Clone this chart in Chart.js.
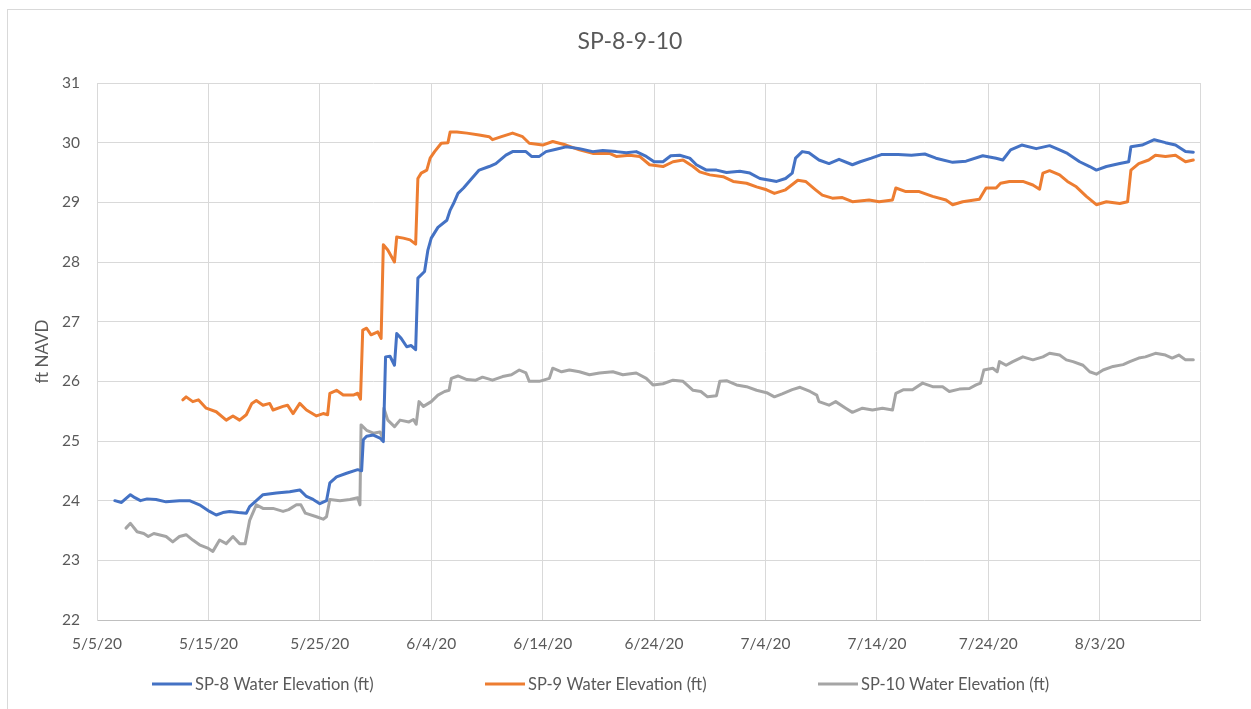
<!DOCTYPE html>
<html>
<head>
<meta charset="utf-8">
<title>SP-8-9-10</title>
<script src="https://cdn.jsdelivr.net/npm/chart.js@4"></script>
<style>
  html, body { margin: 0; padding: 0; background: #fff; }
  #wrap { width: 1251px; height: 709px; position: relative; }
</style>
</head>
<body>
<div id="wrap"><canvas id="myChart" width="1251" height="709"></canvas></div>
<script>
// days counted from 5/5/20
const startDate = new Date(2020, 4, 5);
const dayMin = 0;
const dayMax = 99;

const chartTitle = 'SP-8-9-10';
const seriesNames = ['SP-8 Water Elevation (ft)', 'SP-9 Water Elevation (ft)', 'SP-10 Water Elevation (ft)'];
const seriesColors = ['#4472C4', '#ED7D31', '#A5A5A5'];

const sp8Days = [1.6, 2.2, 3.0, 3.4, 3.9, 4.5, 5.3, 6.2, 7.4, 8.3, 9.2, 10.1, 10.7, 11.3, 11.9, 12.7, 13.4, 13.7, 14.3, 14.9,
  16.1, 17.3, 18.2, 18.8, 19.4, 20.0, 20.6, 20.9, 21.5, 22.4, 23.4, 23.75, 23.9, 24.2, 24.8, 25.4, 25.7, 25.9, 26.3, 26.7,
  26.9, 27.3, 27.8, 28.2, 28.6, 28.8, 29.4, 29.7, 30.0, 30.6, 31.4, 31.7, 32.0, 32.4, 32.9, 33.5, 34.3, 35.2, 35.8, 36.7,
  37.3, 38.5, 39.0, 39.7, 40.3, 41.2, 42.1, 43.3, 44.5, 45.4, 46.6, 47.5, 48.4, 49.3, 50.0, 50.8, 51.5, 52.3, 53.2, 53.8,
  54.7, 55.6, 56.5, 57.7, 58.6, 59.5, 60.4, 61.0, 61.8, 62.4, 62.7, 63.3, 63.9, 64.8, 65.7, 66.6, 67.8, 68.5, 69.5, 70.4,
  71.9, 73.1, 74.3, 75.3, 76.8, 78.0, 79.5, 80.7, 81.3, 82.0, 83.0, 84.3, 85.5, 86.4, 87.1, 88.2, 89.1, 89.7, 90.6, 91.8,
  92.6, 92.8, 93.8, 94.9, 95.9, 96.8, 97.7, 98.4];
const sp8Vals = [24.0, 23.97, 24.1, 24.05, 24.0, 24.03, 24.02, 23.98, 24.0, 24.0, 23.93, 23.82, 23.76, 23.8, 23.82, 23.8, 23.79, 23.9, 24.0, 24.1,
  24.13, 24.15, 24.18, 24.07, 24.02, 23.95, 24.0, 24.3, 24.4, 24.46, 24.52, 24.5, 25.02, 25.08, 25.1, 25.05, 24.99, 26.41, 26.42, 26.27,
  26.8, 26.72, 26.58, 26.6, 26.53, 27.73, 27.84, 28.2, 28.4, 28.58, 28.7, 28.87, 28.98, 29.15, 29.24, 29.37, 29.54, 29.6, 29.65, 29.79,
  29.85, 29.85, 29.77, 29.77, 29.85, 29.89, 29.93, 29.9, 29.85, 29.87, 29.85, 29.83, 29.85, 29.77, 29.68, 29.68, 29.78, 29.79, 29.74, 29.63,
  29.54, 29.54, 29.5, 29.52, 29.49, 29.4, 29.37, 29.35, 29.4, 29.49, 29.74, 29.85, 29.83, 29.71, 29.65, 29.72, 29.63, 29.68, 29.74, 29.8,
  29.8, 29.79, 29.81, 29.74, 29.67, 29.69, 29.78, 29.74, 29.71, 29.88, 29.96, 29.9, 29.95, 29.88, 29.82, 29.68, 29.6, 29.54, 29.6, 29.65,
  29.68, 29.93, 29.96, 30.05, 30.0, 29.96, 29.85, 29.84];

const sp9Days = [7.7, 8.0, 8.6, 9.1, 9.8, 10.7, 11.6, 12.2, 12.8, 13.4, 13.9, 14.3, 14.9, 15.5, 15.8, 16.7, 17.1, 17.6, 18.2, 18.8,
  19.7, 20.3, 20.7, 20.9, 21.5, 22.1, 23.0, 23.4, 23.65, 23.85, 24.2, 24.6, 25.2, 25.5, 25.7, 26.1, 26.7, 26.9, 27.5, 28.1,
  28.6, 28.8, 29.1, 29.6, 29.9, 30.3, 30.9, 31.5, 31.7, 32.3, 33.2, 34.3, 35.2, 35.5, 36.3, 37.3, 38.2, 38.8, 40.0, 40.9,
  42.1, 43.3, 44.5, 46.0, 46.6, 47.8, 48.7, 49.6, 50.8, 51.7, 52.6, 53.5, 54.1, 55.0, 56.2, 57.1, 58.3, 59.2, 60.1, 60.8,
  61.8, 62.9, 63.6, 64.5, 65.1, 66.0, 66.9, 67.8, 69.3, 70.2, 71.4, 71.7, 72.6, 73.8, 75.0, 76.2, 76.8, 77.7, 79.2, 79.8,
  80.7, 81.1, 81.9, 83.1, 84.0, 84.6, 84.9, 85.5, 86.4, 87.1, 87.9, 88.8, 89.7, 90.6, 91.8, 92.5, 92.8, 93.5, 94.4, 95.0,
  95.9, 96.8, 97.7, 98.4];
const sp9Vals = [25.69, 25.74, 25.66, 25.69, 25.55, 25.49, 25.35, 25.42, 25.35, 25.44, 25.63, 25.68, 25.6, 25.63, 25.52, 25.58, 25.6, 25.46, 25.63, 25.52,
  25.42, 25.46, 25.44, 25.8, 25.85, 25.77, 25.77, 25.8, 25.7, 26.86, 26.89, 26.78, 26.83, 26.72, 28.29, 28.2, 28.0, 28.42, 28.4, 28.37,
  28.3, 29.4, 29.49, 29.54, 29.74, 29.85, 29.99, 30.0, 30.18, 30.18, 30.16, 30.13, 30.1, 30.05, 30.1, 30.16, 30.1, 29.99, 29.96, 30.02,
  29.96, 29.88, 29.82, 29.82, 29.77, 29.79, 29.77, 29.63, 29.6, 29.68, 29.71, 29.6, 29.51, 29.46, 29.43, 29.35, 29.32, 29.26, 29.21, 29.15,
  29.21, 29.37, 29.35, 29.21, 29.12, 29.07, 29.08, 29.01, 29.04, 29.01, 29.04, 29.24, 29.18, 29.18, 29.1, 29.04, 28.96, 29.01, 29.05, 29.24,
  29.24, 29.32, 29.35, 29.35, 29.29, 29.22, 29.49, 29.53, 29.46, 29.35, 29.26, 29.1, 28.96, 29.01, 28.98, 29.01, 29.54, 29.65, 29.71, 29.79,
  29.77, 29.79, 29.68, 29.71];

const sp10Days = [2.6, 3.0, 3.6, 4.2, 4.6, 5.1, 6.2, 6.8, 7.4, 8.0, 8.6, 9.2, 10.0, 10.4, 11.0, 11.6, 12.2, 12.8, 13.3, 13.7,
  14.3, 14.9, 15.8, 16.7, 17.2, 17.9, 18.3, 18.7, 19.7, 20.3, 20.6, 20.9, 21.8, 22.7, 23.4, 23.6, 23.7, 24.2, 24.8, 25.4,
  25.65, 25.75, 26.1, 26.7, 27.2, 28.0, 28.4, 28.65, 28.9, 29.3, 30.0, 30.6, 31.2, 31.6, 31.8, 32.4, 33.2, 34.0, 34.6, 35.5,
  36.4, 37.2, 37.9, 38.5, 38.8, 39.7, 40.6, 40.9, 41.7, 42.4, 43.3, 44.2, 45.1, 46.3, 47.2, 48.4, 49.3, 49.9, 50.8, 51.7,
  52.6, 53.5, 54.2, 54.8, 55.6, 55.9, 56.5, 57.4, 58.3, 59.2, 60.1, 60.8, 61.5, 62.4, 63.1, 64.0, 64.6, 64.8, 65.7, 66.3,
  67.2, 67.8, 68.7, 69.6, 70.5, 71.4, 71.7, 72.4, 73.2, 74.1, 75.0, 75.9, 76.5, 77.4, 78.3, 78.9, 79.3, 79.6, 80.4, 80.8,
  81.0, 81.6, 82.2, 83.1, 84.0, 84.9, 85.5, 86.4, 87.0, 87.6, 88.5, 89.1, 89.7, 90.3, 91.2, 92.1, 92.7, 93.5, 94.1, 95.0,
  95.9, 96.5, 97.1, 97.7, 98.4];
const sp10Vals = [23.54, 23.62, 23.48, 23.45, 23.4, 23.45, 23.4, 23.31, 23.4, 23.43, 23.34, 23.26, 23.2, 23.15, 23.34, 23.28, 23.4, 23.28, 23.28, 23.67,
  23.93, 23.87, 23.87, 23.82, 23.85, 23.93, 23.93, 23.79, 23.73, 23.69, 23.73, 24.02, 24.0, 24.02, 24.05, 23.93, 25.27, 25.18, 25.13, 25.15,
  25.05, 25.55, 25.35, 25.24, 25.35, 25.32, 25.36, 25.28, 25.66, 25.58, 25.66, 25.77, 25.83, 25.85, 26.05, 26.09, 26.03, 26.02, 26.07, 26.02,
  26.08, 26.11, 26.19, 26.14, 26.0, 26.0, 26.05, 26.22, 26.16, 26.19, 26.16, 26.11, 26.14, 26.16, 26.11, 26.14, 26.05, 25.94, 25.96, 26.02,
  26.0, 25.85, 25.83, 25.74, 25.76, 26.0, 26.01, 25.94, 25.91, 25.85, 25.81, 25.74, 25.79, 25.86, 25.9, 25.83, 25.77, 25.66, 25.6, 25.66,
  25.55, 25.48, 25.55, 25.52, 25.55, 25.52, 25.8, 25.86, 25.86, 25.97, 25.91, 25.91, 25.83, 25.87, 25.88, 25.94, 25.97, 26.19, 26.22, 26.16,
  26.33, 26.27, 26.33, 26.41, 26.36, 26.41, 26.47, 26.44, 26.36, 26.33, 26.27, 26.16, 26.12, 26.19, 26.25, 26.28, 26.33, 26.39, 26.41, 26.47,
  26.44, 26.39, 26.44, 26.36, 26.36];

const yMin = 22;
const yMax = 31;

const toPoints = (days, vals) => days.map((d, i) => ({ x: d, y: vals[i] }));

const dateLabel = (day) => {
  const dt = new Date(startDate.getFullYear(), startDate.getMonth(), startDate.getDate() + day);
  return `${dt.getMonth() + 1}/${dt.getDate()}/20`;
};

const textColor = '#595959';
const fontFamily = 'Lato, "Open Sans", sans-serif';

// frame, centred title and legend row, placed like the Excel original
const frameAndLegend = {
  id: 'frameAndLegend',
  beforeDraw(chart) {
    const ctx = chart.ctx;
    ctx.save();
    ctx.strokeStyle = '#D9D9D9';
    ctx.lineWidth = 1;
    ctx.strokeRect(7.5, 9.5, 1300, 800);
    ctx.restore();
  },
  afterDraw(chart) {
    const ctx = chart.ctx;
    ctx.save();
    ctx.fillStyle = textColor;
    ctx.font = `23px ${fontFamily}`;
    ctx.textAlign = 'center';
    ctx.textBaseline = 'middle';
    ctx.fillText(chartTitle, 630, 42);

    ctx.font = `16.5px ${fontFamily}`;
    ctx.textAlign = 'left';
    const y = 684;
    chart.data.datasets.forEach((ds, i) => {
      const x0 = 152 + i * 333;
      ctx.strokeStyle = ds.borderColor;
      ctx.lineWidth = 3;
      ctx.beginPath();
      ctx.moveTo(x0, y);
      ctx.lineTo(x0 + 40, y);
      ctx.stroke();
      ctx.fillStyle = textColor;
      ctx.fillText(ds.label, x0 + 43, y + 1);
    });
    ctx.restore();
  }
};

const ctx = document.getElementById('myChart');

const myChart = new Chart(ctx, {
  type: 'line',
  data: {
    datasets: [
      { label: seriesNames[0], data: toPoints(sp8Days, sp8Vals), borderColor: seriesColors[0] },
      { label: seriesNames[1], data: toPoints(sp9Days, sp9Vals), borderColor: seriesColors[1] },
      { label: seriesNames[2], data: toPoints(sp10Days, sp10Vals), borderColor: seriesColors[2] }
    ]
  },
  options: {
    responsive: false,
    animation: false,
    elements: {
      point: { radius: 0 },
      line: { borderWidth: 3, tension: 0, fill: false, borderJoinStyle: 'round', borderCapStyle: 'round' }
    },
    layout: { padding: { left: 0, right: 51, top: 83, bottom: 44 } },
    plugins: {
      legend: { display: false },
      tooltip: { enabled: false },
      title: { display: false }
    },
    scales: {
      x: {
        type: 'linear',
        min: dayMin,
        max: dayMax,
        afterFit: (scale) => { scale.height = 45; },
        grid: { color: '#D9D9D9', drawTicks: false },
        border: { color: '#BFBFBF' },
        ticks: {
          stepSize: 10,
          autoSkip: false,
          maxRotation: 0,
          padding: 15,
          color: textColor,
          font: { family: fontFamily, size: 15.5 },
          callback: (v) => (v % 10 === 0 ? dateLabel(v) : '')
        }
      },
      y: {
        min: yMin,
        max: yMax,
        afterFit: (scale) => { scale.width = 97; },
        grid: { color: '#D9D9D9', drawTicks: false },
        border: { color: '#D9D9D9' },
        ticks: {
          stepSize: 1,
          padding: 17,
          color: textColor,
          font: { family: fontFamily, size: 15.5 }
        },
        title: {
          display: true,
          text: 'ft NAVD',
          color: textColor,
          font: { family: fontFamily, size: 17 },
          padding: { top: 32, bottom: 0 }
        }
      }
    }
  },
  plugins: [frameAndLegend]
});
</script>
</body>
</html>
